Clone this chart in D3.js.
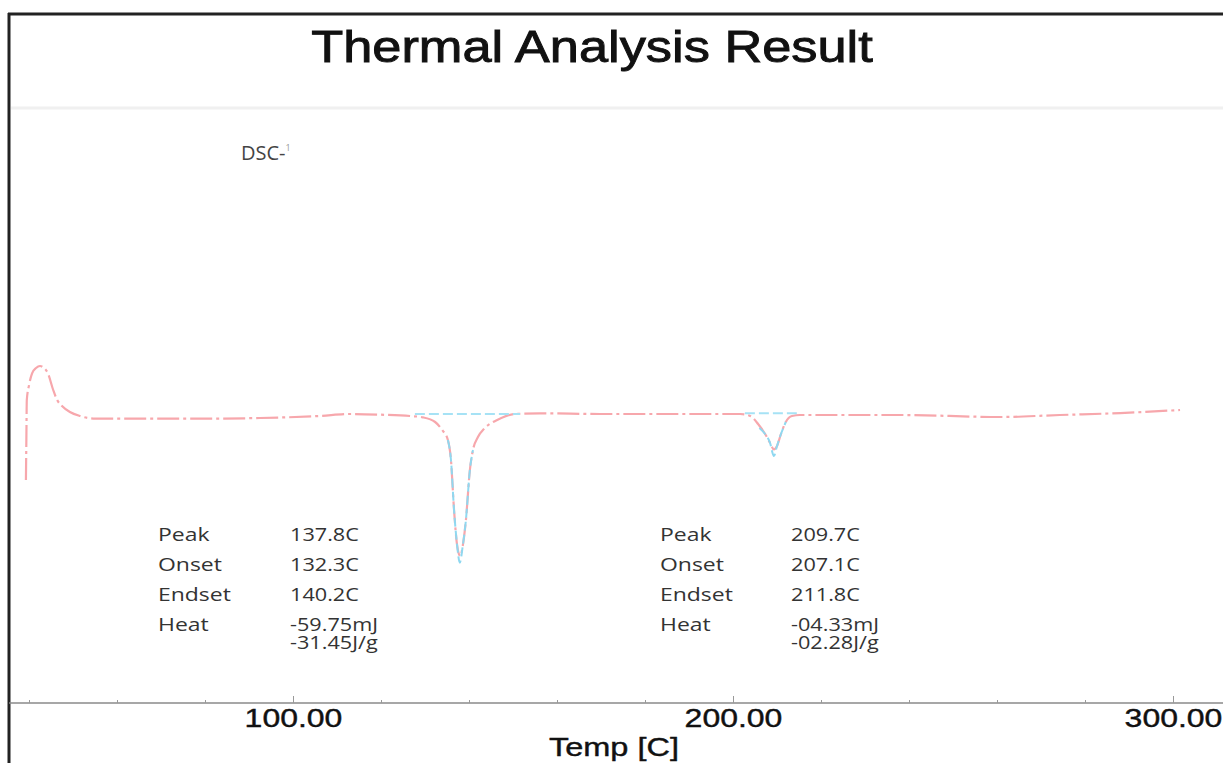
<!DOCTYPE html>
<html>
<head>
<meta charset="utf-8">
<script src="https://cdn.jsdelivr.net/npm/d3@7"></script>
<style>
  html, body { margin: 0; padding: 0; background: #fff; }
  svg { display: block; }
</style>
</head>
<body>
<div id="chart"></div>
<script>
// DSC trace (temperature in C, heat flow in arbitrary units)
const dscTemp = [39.3, 39.4, 39.5, 40.0, 40.7, 41.6, 42.5, 43.4, 44.3, 45.5, 46.4, 47.5, 49.3, 51.6, 55.0,
  60.7, 78.9, 92.5, 106.0, 113.0, 119.8, 126.6, 129.5, 132.3, 133.9, 135.2, 135.9, 136.6, 137.3, 138.0,
  138.6, 139.3, 140.2, 140.9, 142.0, 143.6, 146.4, 150.5, 156.1, 169.8, 188.0, 201.6, 203.9, 205.7,
  207.3, 208.4, 209.3, 210.0, 210.9, 212.0, 213.4, 215.2, 238.0, 260.7, 274.3, 288.0, 301.6];
const dscFlow = [-4.8, -1.8, 1.2, 2.3, 3.2, 3.6, 3.75, 3.6, 3.2, 1.95, 1.2, 0.75, 0.3, 0.0, -0.2,
  -0.2, -0.2, -0.15, 0.0, 0.15, 0.1, 0.0, -0.1, -0.45, -1.05, -1.8, -3.3, -7.05, -9.7, -10.5,
  -9.7, -7.8, -4.05, -2.55, -1.6, -0.9, -0.3, 0.15, 0.2, 0.15, 0.15, 0.15, 0.0, -0.6,
  -1.35, -2.0, -2.5, -2.25, -1.35, -0.45, 0.0, 0.075, 0.075, -0.075, 0.075, 0.22, 0.45];

// analysis overlays (baselines and peak outlines)
const base1Temp = [127.7, 151.6];
const base1Flow = [0.15, 0.15];
const peak1Temp = [135.2, 135.9, 136.6, 137.3, 137.9, 138.6, 139.3, 140.2, 140.9];
const peak1Flow = [-1.8, -3.3, -7.05, -9.7, -11.0, -9.7, -7.8, -4.05, -2.55];
const base2Temp = [202.7, 214.5];
const base2Flow = [0.2, 0.2];
const peak2Temp = [206.0, 207.3, 208.4, 209.3, 210.0, 210.9, 212.0];
const peak2Flow = [-0.9, -1.35, -2.0, -3.0, -2.25, -1.35, -0.45];

// axis ticks
const majorTicks = [100, 200, 300];
const minorTicks = [40, 60, 80, 120, 140, 160, 180, 220, 240, 260, 280];

// result tables
const resultLabels = ["Peak", "Onset", "Endset", "Heat"];
const peak1Values = ["137.8C", "132.3C", "140.2C", ["-59.75mJ", "-31.45J/g"]];
const peak2Values = ["209.7C", "207.1C", "211.8C", ["-04.33mJ", "-02.28J/g"]];

const W = 1223, H = 763;
const svg = d3.select("#chart").append("svg").attr("width", W).attr("height", H);

const x = d3.scaleLinear().domain([100, 300]).range([293, 1173]);
const y = d3.scaleLinear().domain([-15, 15]).range([616, 216]);

// stretch text horizontally (the original picture is wider than tall)
function stretch(sel, k) {
  sel.each(function () {
    const w = this.getComputedTextLength();
    d3.select(this).attr("textLength", w * k).attr("lengthAdjust", "spacingAndGlyphs");
  });
}

const defs = svg.append("defs");
defs.append("filter").attr("id", "soft")
  .append("feGaussianBlur").attr("stdDeviation", 0.5);

// frame
svg.append("line").attr("x1", 9).attr("x2", 9).attr("y1", 13).attr("y2", H)
  .attr("stroke", "#222").attr("stroke-width", 3);
svg.append("line").attr("x1", 8).attr("x2", W).attr("y1", 14).attr("y2", 14)
  .attr("stroke", "#222").attr("stroke-width", 3);
svg.append("line").attr("x1", 11).attr("x2", W).attr("y1", 108).attr("y2", 108)
  .attr("stroke", "#f0f0f0").attr("stroke-width", 3);

// title
svg.append("text")
  .attr("x", 592).attr("y", 62)
  .attr("text-anchor", "middle")
  .style("font-family", "'Liberation Sans', Arial, sans-serif")
  .style("font-size", "44px")
  .attr("fill", "#111")
  .attr("stroke", "#111").attr("stroke-width", 0.9)
  .text("Thermal Analysis Result")
  .call(stretch, 1.19);

// series label
const dscLabel = svg.append("text")
  .attr("x", 241).attr("y", 160)
  .style("font-family", "'Open Sans', sans-serif")
  .style("font-size", "20px")
  .attr("fill", "#444");
dscLabel.append("tspan").text("DSC-");
dscLabel.append("tspan").attr("dy", -9).style("font-size", "9px").attr("fill", "#999").text("1");

// x axis
svg.append("line").attr("x1", 9).attr("x2", W).attr("y1", 703).attr("y2", 703)
  .attr("stroke", "#8a8a8a").attr("stroke-width", 1.5);

const minorAxis = svg.append("g").attr("transform", "translate(0,703)")
  .call(d3.axisBottom(x).tickValues(minorTicks).tickSize(-3).tickFormat(""));
minorAxis.select(".domain").remove();
minorAxis.selectAll(".tick line").attr("stroke", "#999");

const majorAxis = svg.append("g").attr("transform", "translate(0,703)")
  .call(d3.axisBottom(x).tickValues(majorTicks).tickSize(-7).tickPadding(0).tickFormat(d3.format(".2f")));
majorAxis.select(".domain").remove();
majorAxis.selectAll(".tick line").attr("stroke", "#999");
majorAxis.selectAll(".tick text")
  .attr("y", 24).attr("dy", 0)
  .style("font-family", "'Liberation Sans', Arial, sans-serif")
  .style("font-size", "26px")
  .attr("fill", "#111")
  .attr("stroke", "#111").attr("stroke-width", 0.4)
  .call(stretch, 1.23);

svg.append("text")
  .attr("x", 614).attr("y", 756)
  .attr("text-anchor", "middle")
  .style("font-family", "'Liberation Sans', Arial, sans-serif")
  .style("font-size", "25px")
  .attr("fill", "#111")
  .attr("stroke", "#111").attr("stroke-width", 0.4)
  .text("Temp  [C]")
  .call(stretch, 1.3);

// curves
const line = d3.line()
  .x(d => x(d[0]))
  .y(d => y(d[1]))
  .curve(d3.curveMonotoneX);

const plot = svg.append("g").attr("filter", "url(#soft)");

function drawSeries(ts, vs, color, dash, width) {
  plot.append("path")
    .datum(d3.zip(ts, vs))
    .attr("d", line)
    .attr("fill", "none")
    .attr("stroke", color)
    .attr("stroke-width", width)
    .attr("stroke-dasharray", dash)
    .attr("stroke-linejoin", "round");
}

drawSeries(dscTemp, dscFlow, "#f7a7ac", "22,4,3,4", 2.2);
drawSeries(base1Temp, base1Flow, "#a6e2f5", "10,4", 2);
drawSeries(peak1Temp, peak1Flow, "#8fd8f0", "9,4", 2);
drawSeries(base2Temp, base2Flow, "#a6e2f5", "10,4", 2);
drawSeries(peak2Temp, peak2Flow, "#8fd8f0", "9,4", 2);

// result tables
const rowY = [541, 571, 601, 631];

function drawTable(labelX, valueX, values) {
  const g = svg.append("g")
    .style("font-family", "'Open Sans', sans-serif")
    .style("font-size", "18.5px")
    .attr("fill", "#333");
  g.selectAll("text.lab").data(resultLabels).join("text")
    .attr("class", "lab")
    .attr("x", labelX).attr("y", (d, i) => rowY[i])
    .text(d => d)
    .call(stretch, 1.24);
  const vals = g.selectAll("text.val").data(values).join("text")
    .attr("class", "val")
    .attr("x", valueX).attr("y", (d, i) => rowY[i]);
  vals.each(function (d) {
    const t = d3.select(this);
    const lines = Array.isArray(d) ? d : [d];
    lines.forEach((s, j) => {
      t.append("tspan").attr("x", valueX).attr("dy", j ? 18 : 0).text(s)
        .call(stretch, 1.17);
    });
  });
}

drawTable(158, 290, peak1Values);
drawTable(660, 791, peak2Values);
</script>
</body>
</html>
